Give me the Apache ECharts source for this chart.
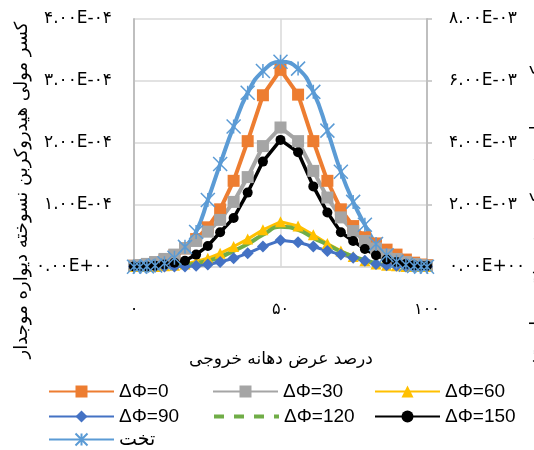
<!DOCTYPE html>
<html>
<head>
<meta charset="utf-8">
<script src="https://cdn.jsdelivr.net/npm/echarts@6/dist/echarts.min.js"></script>
<style>
  html, body { margin: 0; padding: 0; background: #fff; }
  #chart { width: 534px; height: 450px; }
</style>
</head>
<body>
<div id="chart"></div>
<script>
// x positions along the outlet width (%), finer toward the edges
const widthPct = [0, 2, 4.4, 7.2, 10.4, 13.8, 17.4, 21.2, 25.2, 29.4, 34, 38.8, 44, 50,
  56, 61.2, 66, 70.6, 74.8, 78.8, 82.6, 86.2, 89.6, 92.8, 95.6, 98, 100]

// corrugated wall, left axis
const dphi0 = [2e-6, 2e-6, 3e-6, 6e-6, 1.1e-5, 1.9e-5, 3.0e-5, 4.5e-5, 6.4e-5, 9.3e-5, 1.39e-4, 2.03e-4, 2.77e-4, 3.18e-4,
  2.78e-4, 2.03e-4, 1.39e-4, 9.3e-5, 6.6e-5, 4.8e-5, 3.8e-5, 2.8e-5, 2.0e-5, 1.2e-5, 7e-6, 4e-6, 3e-6]
const dphi30 = [2e-6, 3e-6, 5e-6, 8e-6, 1.3e-5, 2.0e-5, 3.0e-5, 4.2e-5, 5.7e-5, 7.6e-5, 1.05e-4, 1.45e-4, 1.95e-4, 2.25e-4,
  2.03e-4, 1.55e-4, 1.12e-4, 8.0e-5, 5.8e-5, 4.2e-5, 3.0e-5, 2.0e-5, 1.3e-5, 8e-6, 5e-6, 3e-6, 2e-6]
const dphi60 = [1e-6, 1e-6, 1e-6, 1e-6, 2e-6, 3e-6, 5e-6, 9e-6, 1.4e-5, 2.2e-5, 3.3e-5, 4.5e-5, 6.0e-5, 7.3e-5,
  6.6e-5, 5.2e-5, 3.8e-5, 2.6e-5, 1.7e-5, 1.0e-5, 5e-6, 3e-6, 2e-6, 1e-6, 1e-6, 1e-6, 1e-6]
const dphi90 = [1e-6, 1e-6, 1e-6, 1e-6, 1e-6, 1e-6, 1e-6, 2e-6, 4e-6, 8e-6, 1.4e-5, 2.2e-5, 3.3e-5, 4.3e-5,
  4.0e-5, 3.3e-5, 2.6e-5, 2.0e-5, 1.5e-5, 1.0e-5, 5e-6, 3e-6, 2e-6, 1e-6, 1e-6, 1e-6, 1e-6]
const dphi120 = [1e-6, 1e-6, 1e-6, 1e-6, 1e-6, 2e-6, 3e-6, 6e-6, 1.0e-5, 1.6e-5, 2.6e-5, 3.7e-5, 5.2e-5, 6.5e-5,
  6.0e-5, 4.7e-5, 3.6e-5, 2.5e-5, 1.7e-5, 1.1e-5, 6e-6, 3e-6, 2e-6, 1e-6, 1e-6, 1e-6, 1e-6]
const dphi150 = [1e-6, 1e-6, 1e-6, 2e-6, 4e-6, 7e-6, 1.0e-5, 2.0e-5, 3.4e-5, 5.6e-5, 7.9e-5, 1.2e-4, 1.7e-4, 2.05e-4,
  1.85e-4, 1.3e-4, 8.8e-5, 5.6e-5, 4.2e-5, 2.9e-5, 1.9e-5, 1.2e-5, 8e-6, 5e-6, 3e-6, 2e-6, 2e-6]
// flat wall, right axis
const flat = [1e-5, 1e-5, 2e-5, 5e-5, 1.2e-4, 3.0e-4, 6.5e-4, 1.13e-3, 2.16e-3, 3.32e-3, 4.53e-3, 5.62e-3, 6.32e-3, 6.62e-3,
  6.4e-3, 5.65e-3, 4.4e-3, 3.07e-3, 2.1e-3, 1.36e-3, 7.4e-4, 3.8e-4, 1.7e-4, 7e-5, 3e-5, 1e-5, 1e-5]

const xTicks = [0, 50, 100]
const leftTicks = [0, 1e-4, 2e-4, 3e-4, 4e-4]
const rightTicks = [0, 2e-3, 4e-3, 6e-3, 8e-3]

const FA = '۰۱۲۳۴۵۶۷۸۹'
function toFa(s) {
  return String(s).replace(/[0-9]/g, (d) => FA[+d])
}
function sci(v) {
  const [m, e] = v.toExponential(2).split('e')
  const n = Math.abs(parseInt(e, 10))
  return toFa(m + 'E' + (parseInt(e, 10) < 0 ? '-' : '+') + (n < 10 ? '0' : '') + n)
}

const pairs = (ys) => widthPct.map((x, i) => [x, ys[i]])
const star = 'path://M0,0L10,10M10,0L0,10M5,0L5,10'

const latin = 'Liberation Sans, DejaVu Sans, sans-serif'
const persian = 'DejaVu Sans, sans-serif'

const chart = echarts.init(document.getElementById('chart'), null, { renderer: 'canvas' })

// one legend per entry so the three columns line up like the original
function legendItem(left, top, item) {
  return {
    left: left,
    top: top,
    itemWidth: 65,
    itemHeight: 15,
    padding: 0,
    selectedMode: false,
    textStyle: { fontFamily: latin, fontSize: 19, color: '#000' },
    data: [item]
  }
}

chart.setOption({
  animation: false,
  backgroundColor: '#fff',
  grid: { left: 134, right: 107, top: 19, bottom: 183 },
  legend: [
    legendItem(48, 382, 'ΔΦ=0'),
    legendItem(212, 382, 'ΔΦ=30'),
    legendItem(374, 382, 'ΔΦ=60'),
    legendItem(48, 407, 'ΔΦ=90'),
    legendItem(212, 407, {
      name: 'ΔΦ=120',
      lineStyle: { type: [10, 10], width: 4, color: '#70AD47' },
      itemStyle: { color: 'rgba(0,0,0,0)', borderWidth: 0 }
    }),
    legendItem(374, 407, 'ΔΦ=150'),
    legendItem(48, 430, 'تخت')
  ],
  xAxis: {
    type: 'value',
    min: xTicks[0],
    max: xTicks[xTicks.length - 1],
    interval: 50,
    axisLine: { show: true, onZero: false, lineStyle: { color: '#D9D9D9', width: 1.5 } },
    axisTick: { show: false },
    axisLabel: { margin: 35, fontFamily: persian, fontSize: 16, color: '#000', formatter: (v) => toFa(v) },
    splitLine: { show: true, lineStyle: { color: '#D9D9D9', width: 1.5 } }
  },
  yAxis: [
    {
      type: 'value',
      min: leftTicks[0],
      max: leftTicks[leftTicks.length - 1],
      interval: 1e-4,
      axisLine: { show: true, lineStyle: { color: '#BFBFBF', width: 2 } },
      axisTick: { show: false },
      axisLabel: { margin: 22, fontFamily: persian, fontSize: 17, color: '#000', formatter: sci },
      splitLine: { show: true, lineStyle: { color: '#D9D9D9', width: 1.5 } }
    },
    {
      type: 'value',
      position: 'right',
      min: rightTicks[0],
      max: rightTicks[rightTicks.length - 1],
      interval: 2e-3,
      axisLine: { show: true, lineStyle: { color: '#BFBFBF', width: 2 } },
      axisTick: { show: true, length: 5, lineStyle: { color: '#BFBFBF', width: 1.5 } },
      axisLabel: { margin: 22, fontFamily: persian, fontSize: 17, color: '#000', formatter: sci },
      splitLine: { show: false }
    }
  ],
  graphic: [
    {
      type: 'text', x: 22, y: 190, rotation: Math.PI / 2,
      style: { text: 'کسر مولی هیدروکربن نسوخته دیواره موجدار', font: '18px ' + persian, fill: '#000', align: 'center', verticalAlign: 'middle' }
    },
    {
      type: 'text', x: 538, y: 225, rotation: Math.PI / 2,
      style: { text: 'کسر مولی هیدروکربن نسوخته دیواره تخت', font: '18px ' + persian, fill: '#000', align: 'center', verticalAlign: 'middle' }
    },
    {
      type: 'text', x: 281, y: 360,
      style: { text: 'درصد عرض دهانه خروجی', font: '17px ' + persian, fill: '#000', align: 'center', verticalAlign: 'middle' }
    }
  ],
  series: [
    {
      name: 'ΔΦ=0', type: 'line', data: pairs(dphi0),
      symbol: 'rect', symbolSize: 12,
      itemStyle: { color: '#ED7D31' }, lineStyle: { color: '#ED7D31', width: 4 }
    },
    {
      name: 'ΔΦ=30', type: 'line', data: pairs(dphi30),
      symbol: 'rect', symbolSize: 12,
      itemStyle: { color: '#A5A5A5' }, lineStyle: { color: '#A5A5A5', width: 4 }
    },
    {
      name: 'ΔΦ=60', type: 'line', data: pairs(dphi60),
      symbol: 'triangle', symbolSize: 11,
      itemStyle: { color: '#FFC000' }, lineStyle: { color: '#FFC000', width: 3 }
    },
    {
      name: 'ΔΦ=90', type: 'line', data: pairs(dphi90),
      symbol: 'diamond', symbolSize: 12,
      itemStyle: { color: '#4472C4' }, lineStyle: { color: '#4472C4', width: 3 }
    },
    {
      name: 'ΔΦ=120', type: 'line', data: pairs(dphi120), smooth: true,
      symbol: 'none',
      itemStyle: { color: '#70AD47' }, lineStyle: { color: '#70AD47', width: 4 }
    },
    {
      name: 'ΔΦ=150', type: 'line', data: pairs(dphi150),
      symbol: 'circle', symbolSize: 10,
      itemStyle: { color: '#000' }, lineStyle: { color: '#000', width: 3.5 }
    },
    {
      name: 'تخت', type: 'line', yAxisIndex: 1, data: pairs(flat), smooth: true,
      symbol: star, symbolSize: 14,
      itemStyle: { color: '#5B9BD5', borderColor: '#5B9BD5', borderWidth: 1.5 },
      lineStyle: { color: '#5B9BD5', width: 4 }
    }
  ]
})
</script>
</body>
</html>
